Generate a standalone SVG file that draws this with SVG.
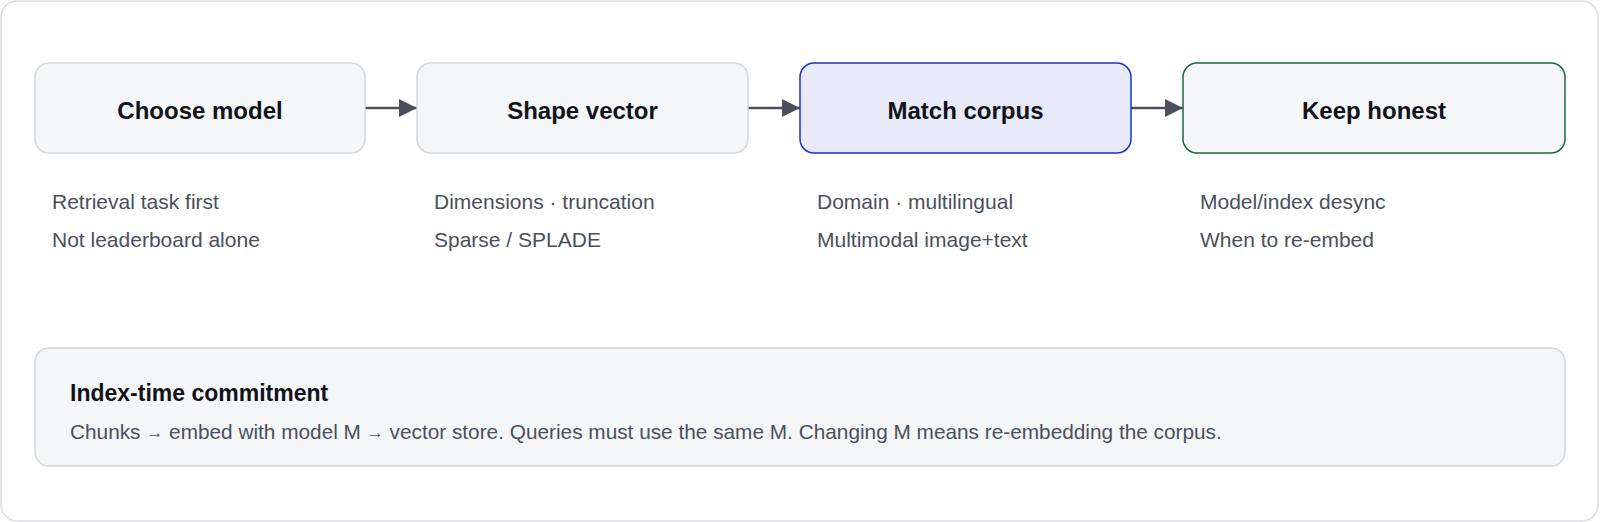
<svg xmlns="http://www.w3.org/2000/svg" width="1600" height="522" viewBox="0 0 1600 522">
  <defs>
    <marker id="arrow" viewBox="0 0 18 18" refX="18" refY="9" markerWidth="18" markerHeight="18" markerUnits="userSpaceOnUse" orient="auto">
      <path d="M0,0 L18,9 L0,18 Z" fill="#4a4f5b"/>
    </marker>
    <style>
      .frame { fill: #ffffff; stroke: #d9dce1; stroke-width: 1.5; }
      .box { fill: #f5f6f8; stroke: #d4d7dd; stroke-width: 1.5; }
      .box-blue { fill: #e8eaf9; stroke: #1f2fd0; stroke-width: 1.5; }
      .box-green { fill: #f5f6f8; stroke: #1b6b3e; stroke-width: 1.5; }
      .title { font-family: "Liberation Sans", Arial, sans-serif; font-weight: bold; font-size: 24px; fill: #111318; text-anchor: middle; }
      .sub { font-family: "Liberation Sans", Arial, sans-serif; font-size: 21px; fill: #4b505c; }
      .ptitle { font-family: "Liberation Sans", Arial, sans-serif; font-weight: bold; font-size: 23px; fill: #111318; }
      .body { font-family: "Liberation Sans", Arial, sans-serif; font-size: 20.8px; fill: #4b505c; }
      .arr { font-size: 17px; }
      .conn { stroke: #4a4f5b; stroke-width: 2.5; fill: none; }
    </style>
  </defs>

  <rect class="frame" x="1" y="1" width="1597" height="520" rx="16"/>

  <g id="connectors">
    <line class="conn" x1="365" y1="108" x2="417" y2="108" marker-end="url(#arrow)"/>
    <line class="conn" x1="748" y1="108" x2="800" y2="108" marker-end="url(#arrow)"/>
    <line class="conn" x1="1131" y1="108" x2="1183" y2="108" marker-end="url(#arrow)"/>
  </g>

  <g id="choose-model">
    <rect class="box" x="35" y="63" width="330" height="90" rx="14"/>
    <text class="title" x="200" y="119">Choose model</text>
    <text class="sub" x="52" y="209">Retrieval task first</text>
    <text class="sub" x="52" y="247">Not leaderboard alone</text>
  </g>

  <g id="shape-vector">
    <rect class="box" x="417" y="63" width="331" height="90" rx="14"/>
    <text class="title" x="582.5" y="119">Shape vector</text>
    <text class="sub" x="434" y="209">Dimensions · truncation</text>
    <text class="sub" x="434" y="247">Sparse / SPLADE</text>
  </g>

  <g id="match-corpus">
    <rect class="box-blue" x="800" y="63" width="331" height="90" rx="14"/>
    <text class="title" x="965.5" y="119">Match corpus</text>
    <text class="sub" x="817" y="209">Domain · multilingual</text>
    <text class="sub" x="817" y="247">Multimodal image+text</text>
  </g>

  <g id="keep-honest">
    <rect class="box-green" x="1183" y="63" width="382" height="90" rx="14"/>
    <text class="title" x="1374" y="119">Keep honest</text>
    <text class="sub" x="1200" y="209">Model/index desync</text>
    <text class="sub" x="1200" y="247">When to re-embed</text>
  </g>

  <g id="index-time-commitment">
    <rect class="box" x="35" y="348" width="1530" height="118" rx="14"/>
    <text class="ptitle" x="70" y="401">Index-time commitment</text>
    <text class="body" x="70" y="439">Chunks <tspan class="arr" dy="-1">→</tspan><tspan dy="1"> embed with model M </tspan><tspan class="arr" dy="-1">→</tspan><tspan dy="1"> vector store. Queries must use the same M. Changing M means re-embedding the corpus.</tspan></text>
  </g>
</svg>
